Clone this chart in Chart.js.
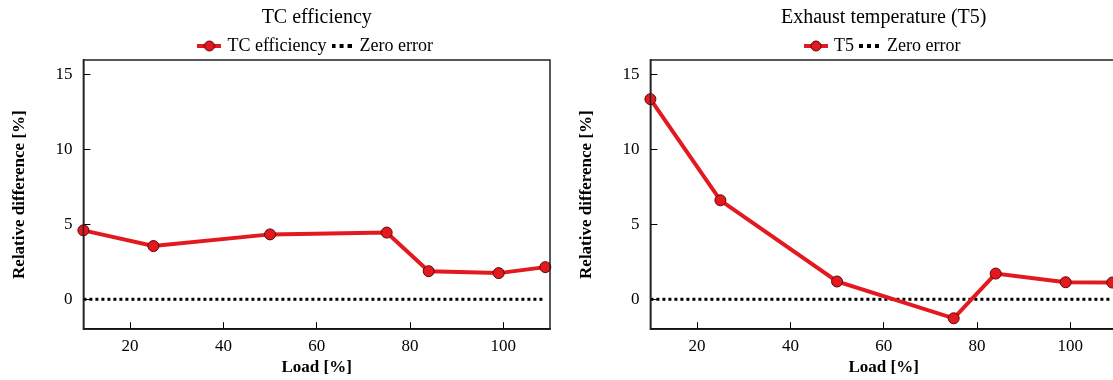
<!DOCTYPE html>
<html>
<head>
<meta charset="utf-8">
<script src="https://cdn.jsdelivr.net/npm/chart.js@4.4.1/dist/chart.umd.min.js"></script>
<style>
  html, body { margin: 0; padding: 0; background: #fff; overflow: hidden; }
  #wrap { position: relative; width: 1113px; height: 380px; overflow: hidden; }
  .panel { position: absolute; top: 0; width: 558px; height: 380px; }
</style>
</head>
<body>
<div id="wrap">
  <div class="panel" style="left:0"><canvas id="tcChart"></canvas></div>
  <div class="panel" style="left:567px"><canvas id="t5Chart"></canvas></div>
</div>
<script>
// Load points (x axis, %)
const loads = [10, 25, 50, 75, 84, 99, 109];
// Relative difference [%] per load
const tcEfficiency = [4.61, 3.56, 4.34, 4.46, 1.88, 1.75, 2.15];
const t5Values = [13.38, 6.62, 1.19, -1.27, 1.72, 1.14, 1.12];
// Tick labels
const xTicks = [20, 40, 60, 80, 100];
const yTicks = [0, 5, 10, 15];

const RED = '#e3191f';
const FONT = 'Liberation Serif, Times New Roman, serif';

// legend icons: line with a circle, and three dots
function lineMarkerIcon() {
  const c = document.createElement('canvas');
  c.width = 24; c.height = 12;
  const g = c.getContext('2d');
  g.strokeStyle = RED; g.lineWidth = 4;
  g.beginPath(); g.moveTo(0, 6); g.lineTo(24, 6); g.stroke();
  g.fillStyle = RED; g.strokeStyle = '#5a0606'; g.lineWidth = 1;
  g.beginPath(); g.arc(12, 6, 5, 0, Math.PI * 2); g.fill(); g.stroke();
  return c;
}
function dotsIcon() {
  const c = document.createElement('canvas');
  c.width = 20; c.height = 12;
  const g = c.getContext('2d');
  g.fillStyle = '#000';
  for (let i = 0; i < 3; i++) g.fillRect(i * 8, 4, 4, 4);
  return c;
}

// frame round the plot area
const frame = {
  id: 'frame',
  afterDraw(chart) {
    const a = chart.chartArea, g = chart.ctx;
    g.save();
    g.strokeStyle = '#222';
    g.lineWidth = 1.5;
    g.strokeRect(a.left, a.top, a.right - a.left, a.bottom - a.top);
    g.restore();
  }
};

// legend sits closer to the plot than chart.js allows by default
const tightLegend = {
  id: 'tightLegend',
  beforeInit(chart) {
    const fit = chart.legend.fit;
    chart.legend.fit = function () {
      fit.call(this);
      this.height -= 5;
    };
  }
};

function makeChart(id, title, label, values) {
  const icons = [lineMarkerIcon(), dotsIcon()];
  return new Chart(document.getElementById(id), {
    type: 'line',
    data: {
      datasets: [{
        label: label,
        data: loads.map((x, i) => ({ x: x, y: values[i] })),
        borderColor: RED,
        borderWidth: 4,
        backgroundColor: RED,
        pointRadius: 5.5,
        pointBackgroundColor: RED,
        pointBorderColor: '#5a0606',
        pointBorderWidth: 1,
        pointStyle: 'circle',
        tension: 0,
        clip: false,
        order: 0
      }, {
        label: 'Zero error',
        data: [{ x: loads[0], y: 0 }, { x: loads[loads.length - 1], y: 0 }],
        borderColor: '#000',
        borderWidth: 3,
        borderDash: [3, 3],
        pointRadius: 0,
        order: 1
      }]
    },
    options: {
      responsive: true,
      maintainAspectRatio: false,
      animation: false,
      layout: { padding: { left: 9, right: 8, top: 0, bottom: 2 } },
      plugins: {
        title: {
          display: true,
          text: title,
          fullSize: false,
          color: '#000',
          font: { family: FONT, size: 20, weight: 'normal' },
          padding: { top: 6, bottom: 1 }
        },
        legend: {
          fullSize: false,
          labels: {
            color: '#000',
            font: { family: FONT, size: 18 },
            usePointStyle: true,
            pointStyleWidth: 18,
            padding: 6,
            generateLabels(chart) {
              return chart.data.datasets.map((ds, i) => ({
                text: ds.label,
                pointStyle: icons[i],
                datasetIndex: i,
                lineWidth: 0,
                fillStyle: 'transparent',
                strokeStyle: 'transparent'
              }));
            }
          }
        },
        tooltip: { enabled: false }
      },
      scales: {
        x: {
          type: 'linear',
          min: 10,
          max: 110,
          afterBuildTicks(s) { s.ticks = xTicks.map(v => ({ value: v })); },
          grid: { drawOnChartArea: false, tickLength: -7, color: '#000', tickWidth: 1 },
          border: { color: '#000', width: 1.5 },
          ticks: { color: '#000', font: { family: FONT, size: 17 }, padding: 14, maxRotation: 0 },
          title: {
            display: true, text: 'Load [%]', color: '#000',
            font: { family: FONT, size: 17, weight: 'bold' }, padding: { top: -13, bottom: 0 }
          }
        },
        y: {
          min: -2,
          max: 16,
          afterBuildTicks(s) { s.ticks = yTicks.map(v => ({ value: v })); },
          grid: { drawOnChartArea: false, tickLength: -7, color: '#000', tickWidth: 1 },
          border: { color: '#000', width: 1.5 },
          ticks: { color: '#000', font: { family: FONT, size: 17 }, padding: 18 },
          title: {
            display: true, text: 'Relative difference [%]', color: '#000',
            font: { family: FONT, size: 17, weight: 'bold' }, padding: { top: 0, bottom: 8 }
          }
        }
      }
    },
    plugins: [frame, tightLegend]
  });
}

makeChart('tcChart', 'TC efficiency', 'TC efficiency', tcEfficiency);
makeChart('t5Chart', 'Exhaust temperature (T5)', 'T5', t5Values);
</script>
</body>
</html>
